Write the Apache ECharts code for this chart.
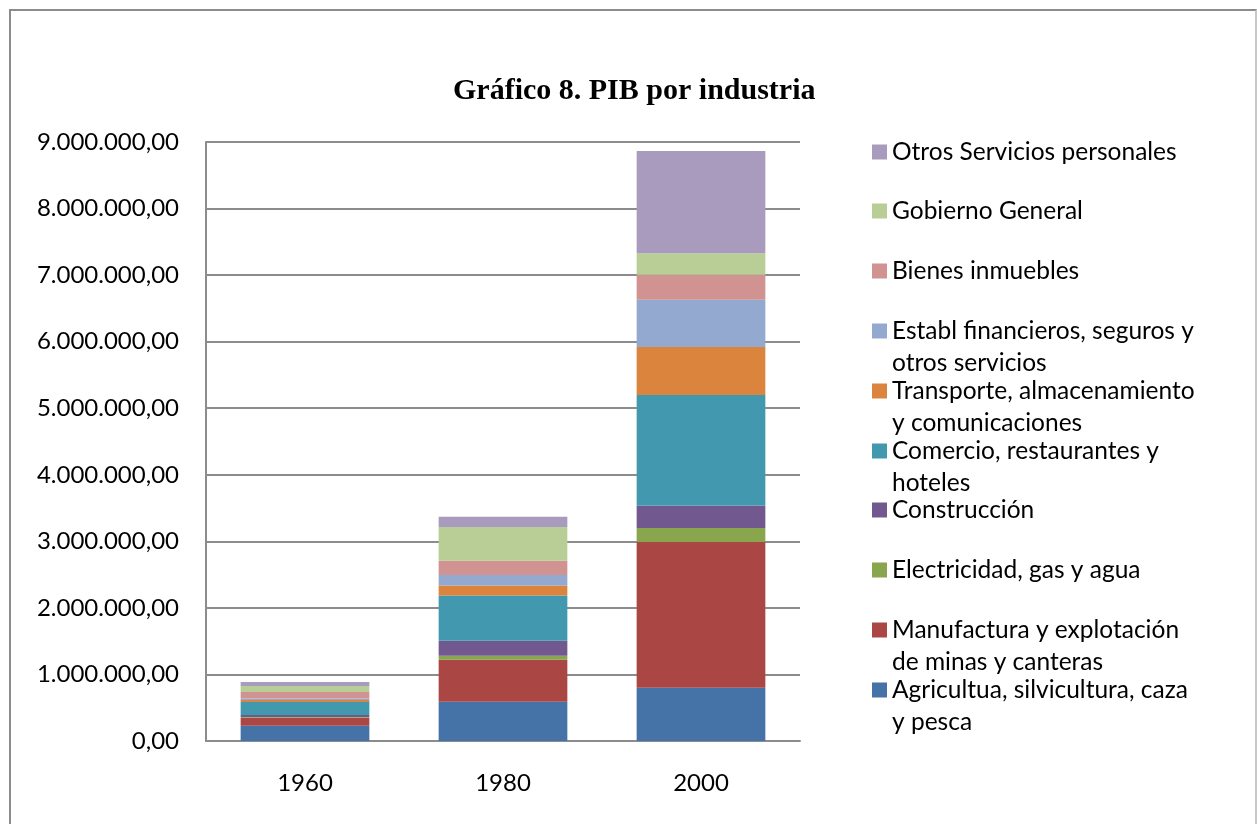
<!DOCTYPE html>
<html lang="es">
  <head>
    <meta charset="UTF-8" />
    <title>PIB por industria</title>
    <script src="https://cdn.jsdelivr.net/npm/echarts@6.0.0/dist/echarts.min.js"></script>
    <style>
      body { margin: 0; background: #fff; }
      #main { position: absolute; left: 0; top: 0; width: 1257px; height: 824px; }
      #frame {
        position: absolute; left: 9px; top: 9px; width: 1248px; height: 840px;
        box-sizing: border-box; border: 2px solid #8c8c8c; border-right-color: #c8c8c8;
        pointer-events: none;
      }
    </style>
  </head>
  <body>
    <div id="main"></div>
    <div id="frame"></div>
    <script type="text/javascript">
      // data (bottom of the stack first)
      const years = ["1960", "1980", "2000"];

      const agricultura  = [230000, 590000, 800000];
      const manufactura  = [120000, 630000, 2190000];
      const electricidad = [10000, 60000, 210000];
      const construccion = [30000, 225000, 340000];
      const comercio     = [195000, 680000, 1660000];
      const transporte   = [30000, 150000, 720000];
      const financieros  = [25000, 160000, 710000];
      const inmuebles    = [95000, 215000, 375000];
      const gobierno     = [90000, 505000, 325000];
      const otros        = [60000, 155000, 1535000];

      const yTicks = [0, 1000000, 2000000, 3000000, 4000000, 5000000, 6000000, 7000000, 8000000, 9000000];

      const seriesNames = [
        "Agricultua, silvicultura, caza y pesca",
        "Manufactura y explotación de minas y canteras",
        "Electricidad, gas y agua",
        "Construcción",
        "Comercio, restaurantes y hoteles",
        "Transporte, almacenamiento y comunicaciones",
        "Establ financieros, seguros y otros servicios",
        "Bienes inmuebles",
        "Gobierno General",
        "Otros Servicios personales"
      ];
      const seriesData = [agricultura, manufactura, electricidad, construccion, comercio,
                          transporte, financieros, inmuebles, gobierno, otros];

      // how the legend wraps the long names
      const legendText = {
        "Agricultua, silvicultura, caza y pesca": "Agricultua, silvicultura, caza\ny pesca",
        "Manufactura y explotación de minas y canteras": "Manufactura y explotación\nde minas y canteras",
        "Comercio, restaurantes y hoteles": "Comercio, restaurantes y\nhoteles",
        "Transporte, almacenamiento y comunicaciones": "Transporte, almacenamiento\ny comunicaciones",
        "Establ financieros, seguros y otros servicios": "Establ financieros, seguros y\notros servicios"
      };

      const colors = ["#4572A7", "#AA4643", "#89A54E", "#71588F", "#4198AF",
                      "#DB843D", "#93A9CF", "#D19392", "#B9CD96", "#A99BBD"];

      const font = "Lato";
      const lineH = 32;

      function fmt(v) {
        return String(v).replace(/\B(?=(\d{3})+(?!\d))/g, ".") + ",00";
      }

      // one legend per entry, top entry first, evenly spaced.
      // wrapped names get an empty first line so the square sits beside line one
      const legends = seriesNames.slice().reverse().map(function (name, i) {
        const wrapped = !!legendText[name];
        const center = 151.5 + i * 59.83;
        return {
          data: [name],
          left: 872,
          top: Math.round(center - lineH / 2 - (wrapped ? lineH : 0)),
          padding: 0,
          icon: "rect",
          itemWidth: 15,
          itemHeight: 15,
          selectedMode: false,
          formatter: function (n) { return legendText[n] ? "\n" + legendText[n] : n; },
          textStyle: {
            fontFamily: font,
            fontSize: 24.5,
            color: "#000",
            lineHeight: lineH
          }
        };
      });

      const option = {
        backgroundColor: "#fff",
        animation: false,
        color: colors,
        title: {
          text: "Gráfico 8. PIB por industria",
          left: 453,
          top: 76,
          padding: 0,
          textStyle: {
            fontFamily: "Liberation Serif",
            fontWeight: "bold",
            fontSize: 30,
            color: "#000"
          }
        },
        legend: legends,
        grid: { left: 206, right: 457, top: 142, bottom: 83 },
        xAxis: {
          type: "category",
          data: years,
          axisLine: { lineStyle: { color: "#8c8c8c", width: 2 } },
          axisTick: { show: false },
          axisLabel: { margin: 30, fontFamily: font, fontSize: 24, color: "#000" }
        },
        yAxis: {
          type: "value",
          min: yTicks[0],
          max: yTicks[yTicks.length - 1],
          interval: yTicks[1] - yTicks[0],
          axisLine: { show: true, lineStyle: { color: "#8c8c8c", width: 2 } },
          axisTick: { show: false },
          splitLine: { lineStyle: { color: "#8c8c8c", width: 2 } },
          axisLabel: { margin: 27, fontFamily: font, fontSize: 24, color: "#000", formatter: fmt }
        },
        series: seriesNames.map(function (name, i) {
          return {
            name: name,
            type: "bar",
            stack: "pib",
            barWidth: "65%",
            data: seriesData[i]
          };
        })
      };

      let myChart = echarts.init(document.getElementById("main"));
      myChart.setOption(option);
    </script>
  </body>
</html>
